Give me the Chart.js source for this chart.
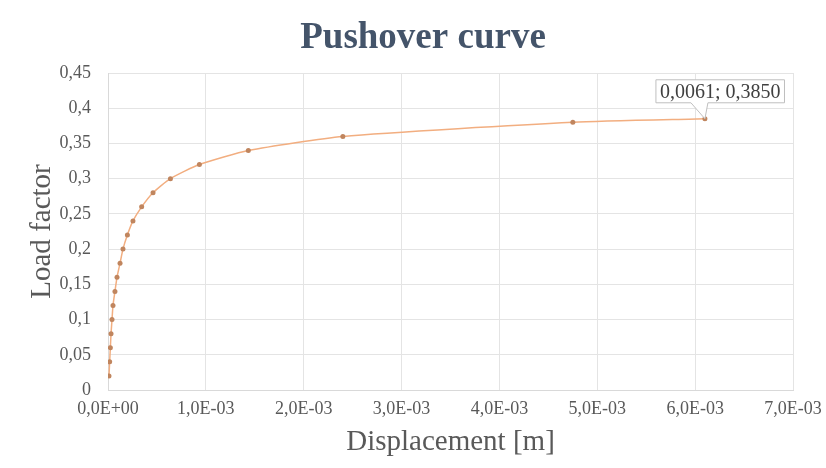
<!DOCTYPE html>
<html lang="en">
<head>
    <meta charset="UTF-8">
    <title>Pushover curve</title>
    <script src="https://cdn.jsdelivr.net/npm/chart.js"></script>
    <style>
        body { margin: 0; background: #fff; }
        #wrap { width: 826px; height: 468px; }
    </style>
</head>
<body>
    <div id="wrap">
        <canvas id="pushChart" width="826" height="468"></canvas>
    </div>

    <script>
        // Displacement [m] and load factor
        const displacement = [
            1.0e-5, 1.7e-5, 2.4e-5, 3.1e-5, 4.1e-5, 5.1e-5, 7.1e-5, 9.2e-5,
            1.23e-4, 1.53e-4, 1.98e-4, 2.55e-4, 3.44e-4, 4.60e-4, 6.38e-4,
            9.34e-4, 1.434e-3, 2.40e-3, 4.75e-3, 6.10e-3
        ];
        const loadFactor = [
            0.02, 0.04, 0.06, 0.08, 0.10, 0.12, 0.14, 0.16,
            0.18, 0.20, 0.22, 0.24, 0.26, 0.28, 0.30,
            0.32, 0.34, 0.36, 0.38, 0.385
        ];
        const xTickLabels = ['0,0E+00', '1,0E-03', '2,0E-03', '3,0E-03', '4,0E-03', '5,0E-03', '6,0E-03', '7,0E-03'];
        const yTickLabels = ['0', '0,05', '0,1', '0,15', '0,2', '0,25', '0,3', '0,35', '0,4', '0,45'];
        const chartTitle = 'Pushover curve';
        const lastLabel = '0,0061; 0,3850';

        const serif = "'Liberation Serif', 'Times New Roman', serif";
        const gray = '#595959';

        // Title sits over the whole picture, not over the plot area
        const titlePlugin = {
            id: 'bigTitle',
            afterDraw(chart) {
                const ctx = chart.ctx;
                ctx.save();
                ctx.font = 'bold 37px ' + serif;
                ctx.fillStyle = '#44546a';
                ctx.textAlign = 'center';
                ctx.textBaseline = 'middle';
                ctx.fillText(chartTitle, 423, 38);
                ctx.restore();
            }
        };

        // Callout on the last point
        const calloutPlugin = {
            id: 'callout',
            afterDatasetsDraw(chart) {
                const meta = chart.getDatasetMeta(0);
                const pt = meta.data[meta.data.length - 1];
                const ctx = chart.ctx;
                ctx.save();
                ctx.font = '20px ' + serif;
                const w = ctx.measureText(lastLabel).width + 8;
                const h = 23;
                const bx = pt.x - 49;
                const by = pt.y - 39;
                ctx.fillStyle = '#fff';
                ctx.strokeStyle = '#bfbfbf';
                ctx.lineWidth = 1;
                ctx.beginPath();
                ctx.moveTo(bx, by);
                ctx.lineTo(bx + w, by);
                ctx.lineTo(bx + w, by + h);
                ctx.lineTo(pt.x + 3, by + h);
                ctx.lineTo(pt.x, pt.y);
                ctx.lineTo(pt.x - 14, by + h);
                ctx.lineTo(bx, by + h);
                ctx.closePath();
                ctx.fill();
                ctx.stroke();
                ctx.fillStyle = '#404040';
                ctx.textBaseline = 'middle';
                ctx.fillText(lastLabel, bx + 4, by + h / 2 + 1);
                ctx.restore();
            }
        };

        const points = displacement.map((d, i) => ({ x: d, y: loadFactor[i] }));

        const ctx = document.getElementById('pushChart').getContext('2d');
        const pushChart = new Chart(ctx, {
            type: 'scatter',
            data: {
                datasets: [{
                    label: 'Pushover',
                    data: points,
                    showLine: true,
                    borderColor: '#f2ae80',
                    borderWidth: 1.5,
                    tension: 0.2,
                    pointRadius: 2.5,
                    pointBackgroundColor: '#c0855e',
                    pointBorderColor: '#c0855e',
                    pointBorderWidth: 0
                }]
            },
            options: {
                responsive: false,
                animation: false,
                layout: { padding: { left: 0, right: 33, top: 73, bottom: 0 } },
                plugins: {
                    legend: { display: false },
                    tooltip: { enabled: false },
                    title: { display: false }
                },
                scales: {
                    x: {
                        type: 'linear',
                        min: 0,
                        max: 0.007,
                        ticks: {
                            stepSize: 0.001,
                            color: gray,
                            font: { family: serif, size: 18 },
                            padding: 8,
                            maxRotation: 0,
                            callback: (v, i) => xTickLabels[i]
                        },
                        grid: { color: '#e4e4e4', drawTicks: false },
                        border: { color: '#d9d9d9' },
                        title: {
                            display: true,
                            text: 'Displacement [m]',
                            color: gray,
                            font: { family: serif, size: 29 },
                            padding: { top: 0, bottom: 8 }
                        },
                        afterFit(scale) {
                            scale.height = 78;
                            scale.paddingLeft = 0;
                            scale.paddingRight = 0;
                        }
                    },
                    y: {
                        min: 0,
                        max: 0.45,
                        ticks: {
                            stepSize: 0.05,
                            color: gray,
                            font: { family: serif, size: 18 },
                            padding: 17,
                            callback: (v, i) => yTickLabels[i]
                        },
                        grid: { color: '#e4e4e4', drawTicks: false },
                        border: { color: '#d9d9d9' },
                        title: {
                            display: true,
                            text: 'Load factor',
                            color: gray,
                            font: { family: serif, size: 29 },
                            padding: { top: 25, bottom: 0 }
                        },
                        afterFit(scale) {
                            scale.width = 108;
                            scale.paddingTop = 0;
                            scale.paddingBottom = 0;
                        }
                    }
                }
            },
            plugins: [calloutPlugin, titlePlugin]
        });
    </script>
</body>
</html>
